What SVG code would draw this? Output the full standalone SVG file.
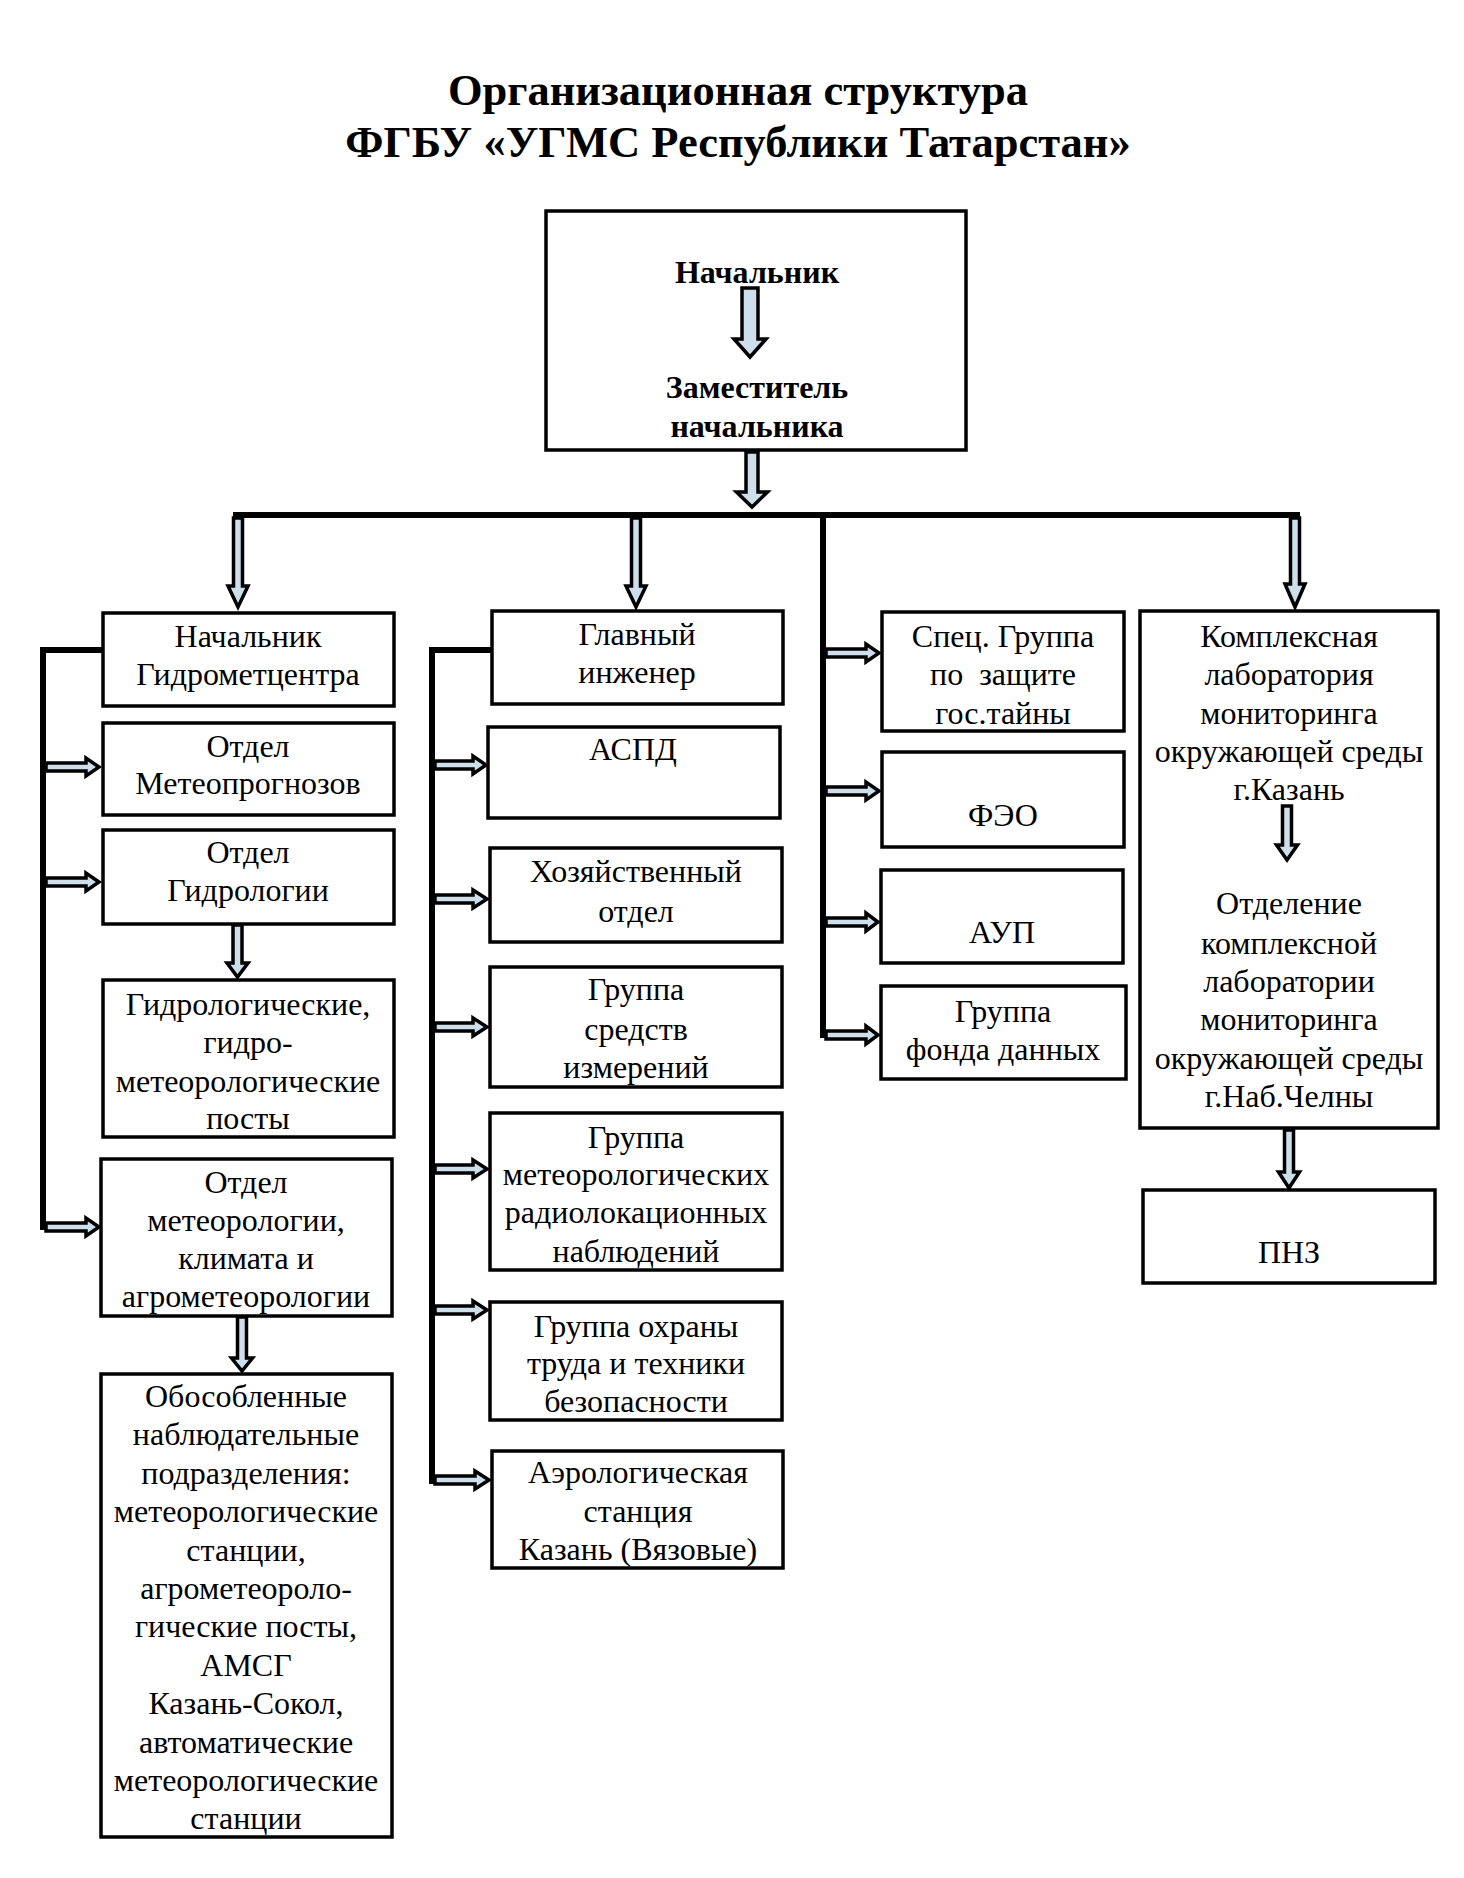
<svg xmlns="http://www.w3.org/2000/svg" width="1464" height="1878" viewBox="0 0 1464 1878">
<style>
  .bg{fill:#ffffff}
  .box{fill:#ffffff;stroke:#000;stroke-width:3.5}
  .t{font-family:"Liberation Serif","Times New Roman",serif;font-size:32px;fill:#000;text-anchor:middle}
  .b{font-weight:bold}
  .title{font-family:"Liberation Serif","Times New Roman",serif;font-size:44.5px;font-weight:bold;fill:#000;text-anchor:middle}
  .arr{fill:#cddfeb;stroke:#000;stroke-width:3.5;stroke-linejoin:miter}
  .line{fill:none;stroke:#000;stroke-width:6;stroke-linejoin:miter}
</style>
<rect class="bg" x="0" y="0" width="1464" height="1878"/>

<g id="title">
  <text class="title" x="738" y="105">Организационная структура</text>
  <text class="title" x="738" y="157">ФГБУ «УГМС Республики Татарстан»</text>
</g>

<g id="connectors">
  <path class="line" d="M233,515 H1300"/>
  <path class="line" d="M103,650 H43 V1230"/>
  <path class="line" d="M492,650 H432 V1484"/>
  <path class="line" d="M823,515 V1038"/>
  <!-- vertical arrows -->
  <polygon class="arr" points="746,452 758,452 758,492 767.5,492 752,507 736.5,492 746,492"/>
  <polygon class="arr" points="233.5,518 242.5,518 242.5,586 248,586 238,607 228,586 233.5,586"/>
  <polygon class="arr" points="631.5,518 640.5,518 640.5,586 646,586 636,607 626,586 631.5,586"/>
  <polygon class="arr" points="1290.5,518 1299.5,518 1299.5,584 1305,584 1295,607 1285,584 1290.5,584"/>
  <polygon class="arr" points="233,925 242,925 242,963 248,963 237.5,977 227,963 233,963"/>
  <polygon class="arr" points="237.5,1317 246.5,1317 246.5,1358 252.5,1358 242,1371 231.5,1358 237.5,1358"/>
  <polygon class="arr" points="1284.5,1130 1293.5,1130 1293.5,1172 1299.5,1172 1289,1188 1278.5,1172 1284.5,1172"/>
  <!-- horizontal arrows col 1 -->
  <polygon class="arr" points="46,763 86,763 86,758 99,767 86,776 86,771 46,771"/>
  <polygon class="arr" points="46,878 86,878 86,873 99,882 86,891 86,886 46,886"/>
  <polygon class="arr" points="46,1223 86,1223 86,1218 99,1227 86,1236 86,1231 46,1231"/>
  <!-- horizontal arrows col 2 -->
  <polygon class="arr" points="435,761 473,761 473,756 486,765 473,774 473,769 435,769"/>
  <polygon class="arr" points="435,895 473,895 473,890 487,899 473,908 473,903 435,903"/>
  <polygon class="arr" points="435,1023 473,1023 473,1018 487,1027 473,1036 473,1031 435,1031"/>
  <polygon class="arr" points="435,1165 473,1165 473,1160 487,1169 473,1178 473,1173 435,1173"/>
  <polygon class="arr" points="435,1306 473,1306 473,1301 487,1310 473,1319 473,1314 435,1314"/>
  <polygon class="arr" points="435,1476 475,1476 475,1471 489,1480 475,1489 475,1484 435,1484"/>
  <!-- horizontal arrows col 3 -->
  <polygon class="arr" points="826,649 866,649 866,644 879,653 866,662 866,657 826,657"/>
  <polygon class="arr" points="826,787 866,787 866,782 879,791 866,800 866,795 826,795"/>
  <polygon class="arr" points="826,918 866,918 866,913 878,922 866,931 866,926 826,926"/>
  <polygon class="arr" points="826,1031 866,1031 866,1026 878,1035 866,1044 866,1039 826,1039"/>
</g>

<g id="n-head">
  <rect class="box" x="546" y="211" width="420" height="239"/>
  <text class="t b" x="757" y="283">Начальник</text>
  <text class="t b" x="757" y="398">Заместитель</text>
  <text class="t b" x="757" y="437">начальника</text>
</g>
<g id="connectors-head">
  <polygon class="arr" points="742,288 758,288 758,339 766,339 750,357 734,339 742,339"/>
</g>

<!-- Column 1 -->
<g id="n-hydromet">
  <rect class="box" x="103" y="613" width="291" height="93"/>
  <text class="t" x="248" y="647">Начальник</text>
  <text class="t" x="248" y="685">Гидрометцентра</text>
</g>
<g id="n-meteoprog">
  <rect class="box" x="103" y="723" width="291" height="92"/>
  <text class="t" x="248" y="757">Отдел</text>
  <text class="t" x="248" y="794">Метеопрогнозов</text>
</g>
<g id="n-hydrology">
  <rect class="box" x="103" y="830" width="291" height="94"/>
  <text class="t" x="248" y="863">Отдел</text>
  <text class="t" x="248" y="901">Гидрологии</text>
</g>
<g id="n-posts">
  <rect class="box" x="103" y="980" width="291" height="157"/>
  <text class="t" x="248" y="1015">Гидрологические,</text>
  <text class="t" x="248" y="1053">гидро-</text>
  <text class="t" x="248" y="1092">метеорологические</text>
  <text class="t" x="248" y="1129">посты</text>
</g>
<g id="n-meteo">
  <rect class="box" x="101" y="1159" width="291" height="157"/>
  <text class="t" x="246" y="1193">Отдел</text>
  <text class="t" x="246" y="1231">метеорологии,</text>
  <text class="t" x="246" y="1269">климата и</text>
  <text class="t" x="246" y="1307">агрометеорологии</text>
</g>
<g id="n-separate">
  <rect class="box" x="101" y="1374" width="291" height="463"/>
  <text class="t" x="246" y="1407">Обособленные</text>
  <text class="t" x="246" y="1445">наблюдательные</text>
  <text class="t" x="246" y="1484">подразделения:</text>
  <text class="t" x="246" y="1522">метеорологические</text>
  <text class="t" x="246" y="1561">станции,</text>
  <text class="t" x="246" y="1599">агрометеороло-</text>
  <text class="t" x="246" y="1637">гические посты,</text>
  <text class="t" x="246" y="1676">АМСГ</text>
  <text class="t" x="246" y="1714">Казань-Сокол,</text>
  <text class="t" x="246" y="1753">автоматические</text>
  <text class="t" x="246" y="1791">метеорологические</text>
  <text class="t" x="246" y="1829">станции</text>
</g>

<!-- Column 2 -->
<g id="n-chief-eng">
  <rect class="box" x="492" y="611" width="291" height="93"/>
  <text class="t" x="637" y="645">Главный</text>
  <text class="t" x="637" y="683">инженер</text>
</g>
<g id="n-aspd">
  <rect class="box" x="488" y="727" width="292" height="91"/>
  <text class="t" x="633" y="760">АСПД</text>
</g>
<g id="n-household">
  <rect class="box" x="490" y="848" width="292" height="94"/>
  <text class="t" x="636" y="882">Хозяйственный</text>
  <text class="t" x="636" y="922">отдел</text>
</g>
<g id="n-measure">
  <rect class="box" x="490" y="967" width="292" height="120"/>
  <text class="t" x="636" y="1000">Группа</text>
  <text class="t" x="636" y="1040">средств</text>
  <text class="t" x="636" y="1078">измерений</text>
</g>
<g id="n-radar">
  <rect class="box" x="490" y="1113" width="292" height="157"/>
  <text class="t" x="636" y="1148">Группа</text>
  <text class="t" x="636" y="1185">метеорологических</text>
  <text class="t" x="636" y="1223">радиолокационных</text>
  <text class="t" x="636" y="1262">наблюдений</text>
</g>
<g id="n-safety">
  <rect class="box" x="490" y="1302" width="292" height="118"/>
  <text class="t" x="636" y="1337">Группа охраны</text>
  <text class="t" x="636" y="1374">труда и техники</text>
  <text class="t" x="636" y="1412">безопасности</text>
</g>
<g id="n-aerology">
  <rect class="box" x="492" y="1451" width="291" height="117"/>
  <text class="t" x="638" y="1483">Аэрологическая</text>
  <text class="t" x="638" y="1522">станция</text>
  <text class="t" x="638" y="1560">Казань (Вязовые)</text>
</g>

<!-- Column 3 -->
<g id="n-secret">
  <rect class="box" x="882" y="612" width="242" height="119"/>
  <text class="t" x="1003" y="647">Спец. Группа</text>
  <text class="t" x="1003" y="685" xml:space="preserve">по  защите</text>
  <text class="t" x="1003" y="724">гос.тайны</text>
</g>
<g id="n-feo">
  <rect class="box" x="882" y="752" width="242" height="95"/>
  <text class="t" x="1003" y="826">ФЭО</text>
</g>
<g id="n-aup">
  <rect class="box" x="881" y="870" width="242" height="93"/>
  <text class="t" x="1002" y="943">АУП</text>
</g>
<g id="n-fund">
  <rect class="box" x="881" y="986" width="245" height="93"/>
  <text class="t" x="1003" y="1022">Группа</text>
  <text class="t" x="1003" y="1060">фонда данных</text>
</g>

<!-- Column 4 -->
<g id="n-lab">
  <rect class="box" x="1140" y="611" width="298" height="517"/>
  <text class="t" x="1289" y="647">Комплексная</text>
  <text class="t" x="1289" y="685">лаборатория</text>
  <text class="t" x="1289" y="724">мониторинга</text>
  <text class="t" x="1289" y="762">окружающей среды</text>
  <text class="t" x="1289" y="800">г.Казань</text>
  <text class="t" x="1289" y="914">Отделение</text>
  <text class="t" x="1289" y="954">комплексной</text>
  <text class="t" x="1289" y="992">лаборатории</text>
  <text class="t" x="1289" y="1030">мониторинга</text>
  <text class="t" x="1289" y="1069">окружающей среды</text>
  <text class="t" x="1289" y="1107">г.Наб.Челны</text>
</g>
<g id="n-pnz">
  <rect class="box" x="1143" y="1190" width="292" height="93"/>
  <text class="t" x="1289" y="1263">ПНЗ</text>
</g>
<g id="connectors-lab">
  <polygon class="arr" points="1282.5,806 1291.5,806 1291.5,845 1297.5,845 1287,860 1276.5,845 1282.5,845"/>
</g>
</svg>
